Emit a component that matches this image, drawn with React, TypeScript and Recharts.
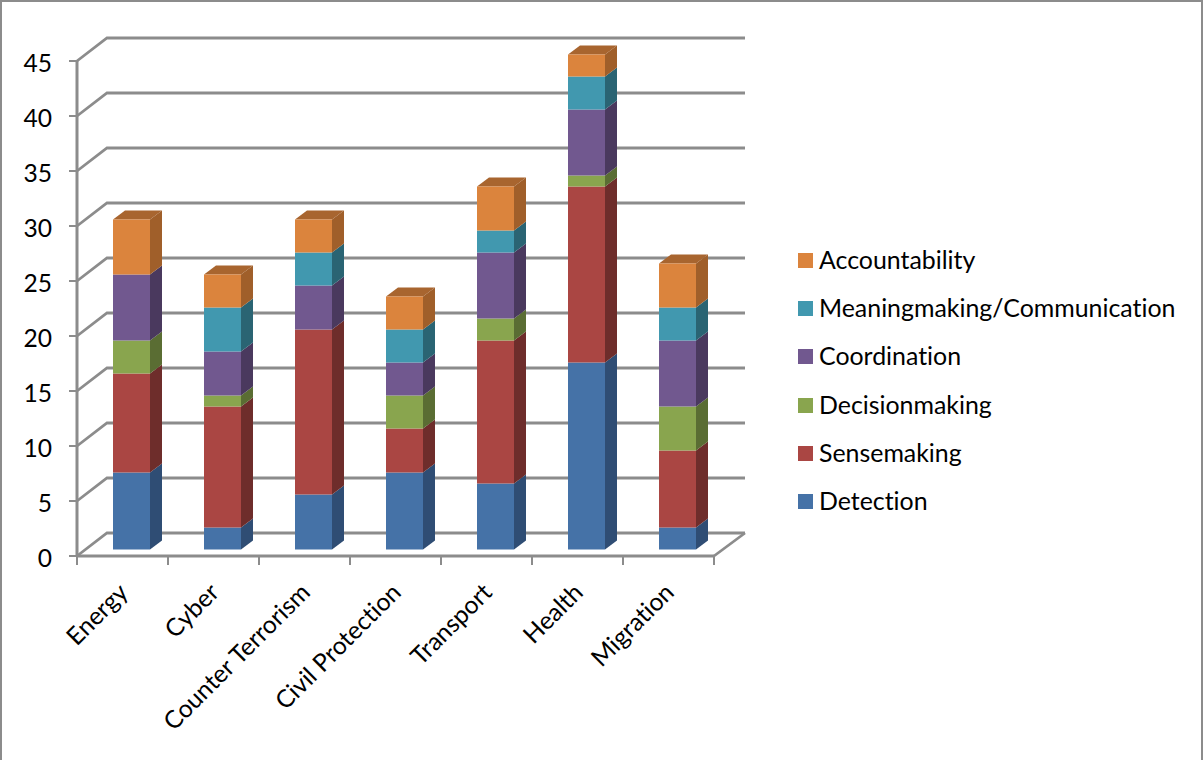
import { BarChart, Bar, XAxis, YAxis, CartesianGrid, Legend } from 'recharts'

const categories = ['Energy', 'Cyber', 'Counter Terrorism', 'Civil Protection', 'Transport', 'Health', 'Migration']
const detection = [7, 2, 5, 7, 6, 17, 2]
const sensemaking = [9, 11, 15, 4, 13, 16, 7]
const decisionmaking = [3, 1, 0, 3, 2, 1, 4]
const coordination = [6, 4, 4, 3, 6, 6, 6]
const meaningmaking = [0, 4, 3, 3, 2, 3, 3]
const accountability = [5, 3, 3, 3, 4, 2, 4]
const yTicks = [0, 5, 10, 15, 20, 25, 30, 35, 40, 45]

const chartData = categories.map((name, i) => ({
  name,
  Detection: detection[i],
  Sensemaking: sensemaking[i],
  Decisionmaking: decisionmaking[i],
  Coordination: coordination[i],
  'Meaningmaking/Communication': meaningmaking[i],
  Accountability: accountability[i],
}))

const series = [
  { key: 'Detection', front: '#4572A7', side: '#2F4D74' },
  { key: 'Sensemaking', front: '#AA4643', side: '#6E2D2B' },
  { key: 'Decisionmaking', front: '#89A54E', side: '#5A6D33' },
  { key: 'Coordination', front: '#71588F', side: '#4A395E' },
  { key: 'Meaningmaking/Communication', front: '#4198AF', side: '#2A6473' },
  { key: 'Accountability', front: '#DB843D', side: '#A05F2A', top: '#A8652F' },
]

const FONT = 'Lato, Carlito, sans-serif'
const FONT_SIZE = 24.6
const LEGEND_FONT_SIZE = 24.9
const AXIS_COLOR = '#8C8C8C'
const PLOT_LEFT = 77
const PLOT_RIGHT = 714
const BAND = (PLOT_RIGHT - PLOT_LEFT) / categories.length

// depth of the wall/floor and of each column
const WALL_DX = 30
const WALL_DY = 23
const BAR_DX = 12
const BAR_DY = 9
const BAR_SHIFT_X = 9
const BAR_SHIFT_Y = 6.5

// grid line: runs back along the side wall, then across the back wall
function WallLine(props: any) {
  const { x1, x2, y1, index } = props
  const backY = y1 - WALL_DY
  return (
    <g key={`wall-${index}`}>
      <polyline
        points={`${x1},${y1} ${x1 + WALL_DX},${backY} ${x2 + WALL_DX + 1},${backY}`}
        fill="none"
        stroke={AXIS_COLOR}
        strokeWidth={2.8}
      />
      {y1 >= 555 ? (
        <line x1={x2} y1={y1} x2={x2 + WALL_DX + 1} y2={backY} stroke={AXIS_COLOR} strokeWidth={2.8} />
      ) : null}
    </g>
  )
}

// one stacked segment as a box: front, right side, and a lid on the last series
function BoxSegment(props: any) {
  const { x, y, width, height, front, side, top } = props
  if (!height || height <= 0) return null
  const fx = x + BAR_SHIFT_X
  const fy = y - BAR_SHIFT_Y
  const r = fx + width
  const b = fy + height
  return (
    <g>
      {top ? (
        <polygon
          points={`${fx},${fy} ${fx + BAR_DX},${fy - BAR_DY} ${r + BAR_DX},${fy - BAR_DY} ${r},${fy}`}
          fill={top}
        />
      ) : null}
      <polygon
        points={`${r},${fy} ${r + BAR_DX},${fy - BAR_DY} ${r + BAR_DX},${b - BAR_DY} ${r},${b}`}
        fill={side}
      />
      <rect x={fx} y={fy} width={width} height={height} fill={front} />
    </g>
  )
}

function YTick(props: any) {
  const { y, payload } = props
  return (
    <g>
      <line x1={69} y1={y} x2={PLOT_LEFT} y2={y} stroke={AXIS_COLOR} strokeWidth={2} />
      <text x={52} y={y + 11} textAnchor="end" fontSize={FONT_SIZE} fontFamily={FONT} fill="#000">
        {payload.value}
      </text>
    </g>
  )
}

function XTick(props: any) {
  const { x, payload, index } = props
  const tickY = 556
  const left = x - BAND / 2
  const labelX = x + 7
  const labelY = tickY + 38
  return (
    <g>
      <line x1={left} y1={tickY} x2={left} y2={tickY + 9} stroke={AXIS_COLOR} strokeWidth={2} />
      {index === categories.length - 1 ? (
        <line x1={left + BAND} y1={tickY} x2={left + BAND} y2={tickY + 9} stroke={AXIS_COLOR} strokeWidth={2} />
      ) : null}
      <text
        x={labelX}
        y={labelY}
        textAnchor="end"
        fontSize={FONT_SIZE}
        fontFamily={FONT}
        fill="#000"
        style={{ fontVariantLigatures: 'none' }}
        transform={`rotate(-45 ${labelX} ${labelY})`}
      >
        {payload.value}
      </text>
    </g>
  )
}

function LegendList(props: any) {
  const items = [...props.payload].sort(
    (a: any, b: any) =>
      series.findIndex(s => s.key === b.dataKey) - series.findIndex(s => s.key === a.dataKey),
  )
  return (
    <div style={{ fontFamily: FONT, fontSize: LEGEND_FONT_SIZE, color: '#000', fontVariantLigatures: 'none' }}>
      {items.map((item: any) => (
        <div key={item.dataKey} style={{ height: 48.2, display: 'flex', alignItems: 'flex-start' }}>
          <span style={{ width: 15, height: 15, marginTop: 8, marginRight: 6, background: item.color }} />
          <span style={{ lineHeight: '29px', whiteSpace: 'nowrap' }}>{item.value}</span>
        </div>
      ))}
    </div>
  )
}

export default function App() {
  return (
    <div
      style={{
        position: 'absolute',
        left: 0,
        top: 0,
        width: 1203,
        height: 760,
        boxSizing: 'border-box',
        background: '#fff',
        borderLeft: '2px solid #8C8C8C',
        borderTop: '2px solid #8C8C8C',
        borderRight: '2px solid #8C8C8C',
      }}
    >
      <div style={{ position: 'absolute', left: -2, top: -2 }}>
        <BarChart
          width={1203}
          height={760}
          data={chartData}
          margin={{ top: 61, right: 489, bottom: 0, left: 0 }}
        >
          <CartesianGrid vertical={false} horizontal={WallLine} />
          <XAxis
            dataKey="name"
            height={204}
            interval={0}
            tickLine={false}
            tick={XTick}
            axisLine={{ stroke: AXIS_COLOR, strokeWidth: 3 }}
          />
          <YAxis
            width={77}
            domain={[0, 45]}
            ticks={yTicks}
            interval={0}
            tickLine={false}
            tick={YTick}
            axisLine={{ stroke: AXIS_COLOR, strokeWidth: 3 }}
          />
          {series.map(s => (
            <Bar
              key={s.key}
              dataKey={s.key}
              stackId="total"
              barSize={37}
              fill={s.front}
              isAnimationActive={false}
              shape={(p: any) => <BoxSegment {...p} front={s.front} side={s.side} top={s.top} />}
            />
          ))}
          <Legend
            layout="vertical"
            align="center"
            verticalAlign="middle"
            content={LegendList}
            wrapperStyle={{ left: 798, top: 245, width: 400, height: 300 }}
          />
        </BarChart>
      </div>
    </div>
  )
}
